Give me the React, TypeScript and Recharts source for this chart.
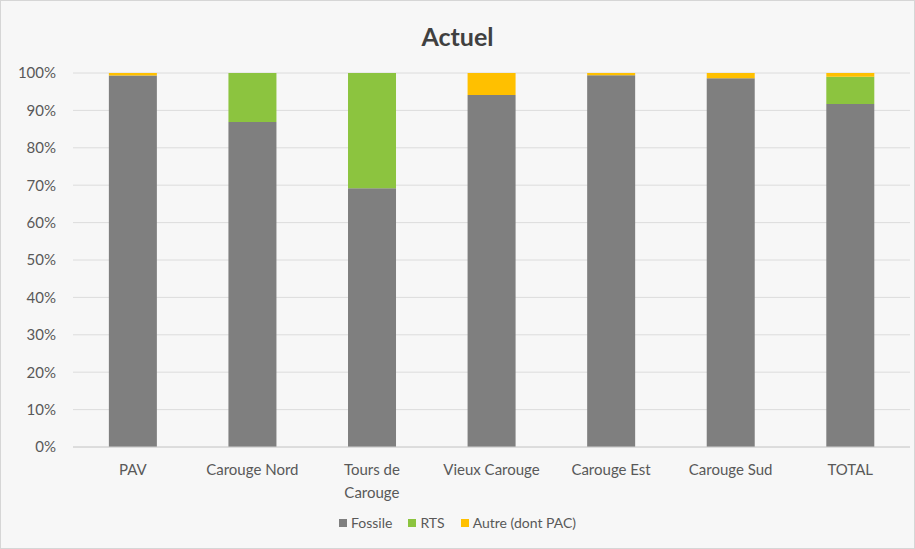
import { BarChart, Bar, XAxis, YAxis, CartesianGrid, Legend } from "recharts";

const categories = ["PAV", "Carouge Nord", "Tours de Carouge", "Vieux Carouge", "Carouge Est", "Carouge Sud", "TOTAL"];
const fossile = [99.3, 86.9, 69.2, 94.1, 99.4, 98.6, 91.7];
const rts = [0, 13.1, 30.8, 0, 0, 0, 7.3];
const autre = [0.7, 0, 0, 5.9, 0.6, 1.4, 1.0];
const yTicks = [0, 10, 20, 30, 40, 50, 60, 70, 80, 90, 100];

const series = [
  { key: "fossile", name: "Fossile", color: "#7f7f7f" },
  { key: "rts", name: "RTS", color: "#8cc43f" },
  { key: "autre", name: "Autre (dont PAC)", color: "#ffc000" },
];

const data = categories.map((name, i) => ({
  name,
  fossile: fossile[i],
  rts: rts[i],
  autre: autre[i],
}));

const FONT = "Lato, 'Open Sans', sans-serif";
const TEXT = "#595959";

const CategoryTick = (props: any) => {
  const { x, y, payload } = props;
  const label: string = payload.value;
  let lines = [label];
  if (label.length > 14) {
    const cut = label.lastIndexOf(" ");
    lines = [label.slice(0, cut), label.slice(cut + 1)];
  }
  return (
    <text x={x} y={y} textAnchor="middle" fill={TEXT} fontSize={15} fontFamily={FONT}>
      {lines.map((l, i) => (
        <tspan key={i} x={x} dy={i === 0 ? 18 : 23}>
          {l}
        </tspan>
      ))}
    </text>
  );
};

const LegendContent = () => (
  <div style={{ display: "flex", justifyContent: "center", gap: 16, fontFamily: FONT, fontSize: 14, color: TEXT }}>
    {series.map((s) => (
      <span key={s.key} style={{ display: "flex", alignItems: "center" }}>
        <span style={{ width: 8, height: 8, background: s.color, marginRight: 4, display: "inline-block" }} />
        {s.name}
      </span>
    ))}
  </div>
);

const App = () => {
  return (
    <div
      style={{
        position: "absolute",
        left: 0,
        top: 0,
        width: 915,
        height: 549,
        background: "#f7f7f7",
        boxSizing: "border-box",
        border: "1px solid #d6d6d6",
      }}
    >
      <div
        style={{
          position: "absolute",
          top: 20,
          width: "100%",
          textAlign: "center",
          fontFamily: FONT,
          fontWeight: 700,
          fontSize: 25,
          color: "#404040",
        }}
      >
        Actuel
      </div>
      <BarChart
        width={913}
        height={547}
        data={data}
        margin={{ top: 72, right: 4, bottom: 0, left: 0 }}
        barCategoryGap="30%"
      >
        <CartesianGrid vertical={false} stroke="#dcdcdc" />
        <XAxis
          dataKey="name"
          tick={<CategoryTick />}
          tickLine={false}
          axisLine={{ stroke: "#d0d0d0" }}
          interval={0}
          height={101}
          tickMargin={4}
        />
        <YAxis
          domain={[0, 100]}
          ticks={yTicks}
          tickFormatter={(v: number) => `${v}%`}
          tickLine={false}
          axisLine={false}
          tickSize={0}
          tickMargin={17}
          width={72}
          tick={{ fill: TEXT, fontSize: 15, fontFamily: FONT }}
        />
        <Legend
          verticalAlign="middle"
          content={<LegendContent />}
          wrapperStyle={{ top: 513, left: 0, width: 913 }}
        />
        {series.map((s) => (
          <Bar key={s.key} dataKey={s.key} name={s.name} stackId="a" fill={s.color} isAnimationActive={false} />
        ))}
      </BarChart>
    </div>
  );
};

export default App;
